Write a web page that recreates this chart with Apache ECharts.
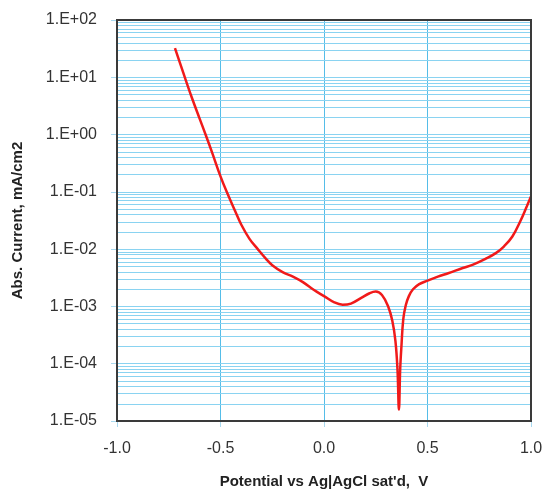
<!DOCTYPE html>
<html><head><meta charset="utf-8">
<script src="https://cdn.jsdelivr.net/npm/echarts@6/dist/echarts.min.js"></script>
<style>html,body{margin:0;padding:0;background:#fff}#c{width:546px;height:495px}</style>
</head><body><div id="c"></div>
<script>
// Potential (V vs Ag|AgCl sat'd)
const potential = [-0.72,-0.68,-0.64,-0.60,-0.57,-0.54,-0.50,-0.47,-0.43,-0.40,-0.36,-0.32,-0.28,-0.25,-0.20,-0.15,-0.10,-0.05,0.00,0.05,0.09,0.13,0.18,0.22,0.25,0.28,0.31,0.33,0.345,0.355,0.362,0.368,0.374,0.383,0.395,0.41,0.43,0.46,0.50,0.55,0.60,0.67,0.72,0.78,0.83,0.87,0.91,0.95,0.98,1.00];
// log10 of |current| (mA/cm2)
const logCurrent = [1.51,1.08,0.66,0.27,-0.02,-0.32,-0.73,-1.0,-1.33,-1.57,-1.82,-2.0,-2.17,-2.28,-2.40,-2.48,-2.58,-2.71,-2.82,-2.93,-2.97,-2.95,-2.85,-2.77,-2.74,-2.80,-3.0,-3.25,-3.6,-4.1,-4.8,-4.1,-3.7,-3.22,-2.98,-2.82,-2.70,-2.61,-2.55,-2.48,-2.42,-2.33,-2.27,-2.17,-2.07,-1.95,-1.78,-1.5,-1.25,-1.08];
const xTicks = [-1.0,-0.5,0.0,0.5,1.0];
const yDecades = [-5,-4,-3,-2,-1,0,1,2];
const minorMultipliers = [1,2,3,4,5,6,7,8,9];

const data = potential.map((p,i)=>[p, Math.pow(10, logCurrent[i])]);
const gridLines = [];
yDecades.slice(0,-1).forEach(d=>minorMultipliers.forEach(m=>{
  const v = m*Math.pow(10,d);
  if (m>1 || d>-5) gridLines.push({yAxis: v});
}));

function fmtExp(v){
  const e = Math.round(Math.log10(v));
  const s = e<0?'-':'+';
  const a = Math.abs(e);
  return '1.E'+s+(a<10?'0':'')+a;
}
const chart = echarts.init(document.getElementById('c'));
chart.setOption({
  animation:false,
  grid:{left:117,top:20,right:15,bottom:74,show:true,borderColor:'#3a3a3a',borderWidth:2,backgroundColor:'transparent',z:10},
  xAxis:{type:'value',min:-1,max:1,interval:0.5,
    axisLine:{show:false,onZero:false},
    axisTick:{show:true,length:6,lineStyle:{color:'#a9d9ef'}},
    axisLabel:{margin:20,fontFamily:'Liberation Sans, Arial',fontSize:16,color:'#333',formatter:v=>v.toFixed(1)},
    splitLine:{show:true,lineStyle:{color:'#55bde8',width:1}},
    name:"Potential vs Ag|AgCl sat'd,  V",nameLocation:'middle',nameGap:53,
    nameTextStyle:{fontFamily:'Liberation Sans, Arial',fontWeight:'bold',fontSize:15,color:'#222'}
  },
  yAxis:{type:'log',logBase:10,min:1e-5,max:1e2,
    axisLine:{show:false,onZero:false},
    axisTick:{show:true,length:6,lineStyle:{color:'#a9d9ef'}},
    axisLabel:{margin:20,fontFamily:'Liberation Sans, Arial',fontSize:16,color:'#333',formatter:fmtExp},
    splitLine:{show:false},
    name:'Abs. Current, mA/cm2',nameLocation:'middle',nameGap:92,nameRotate:90,
    nameTextStyle:{fontFamily:'Liberation Sans, Arial',fontWeight:'bold',fontSize:15,color:'#222'}
  },
  series:[
    {type:'line',data:[],silent:true,
      markLine:{silent:true,symbol:['none','none'],precision:12,animation:false,label:{show:false},
        lineStyle:{color:'#8ad3f1',width:1,type:'solid'},data:gridLines}},
    {type:'line',data:data,smooth:0.4,symbol:'none',
      lineStyle:{color:'#f01a1a',width:2.5},z:5}
  ]
});
</script></body></html>
